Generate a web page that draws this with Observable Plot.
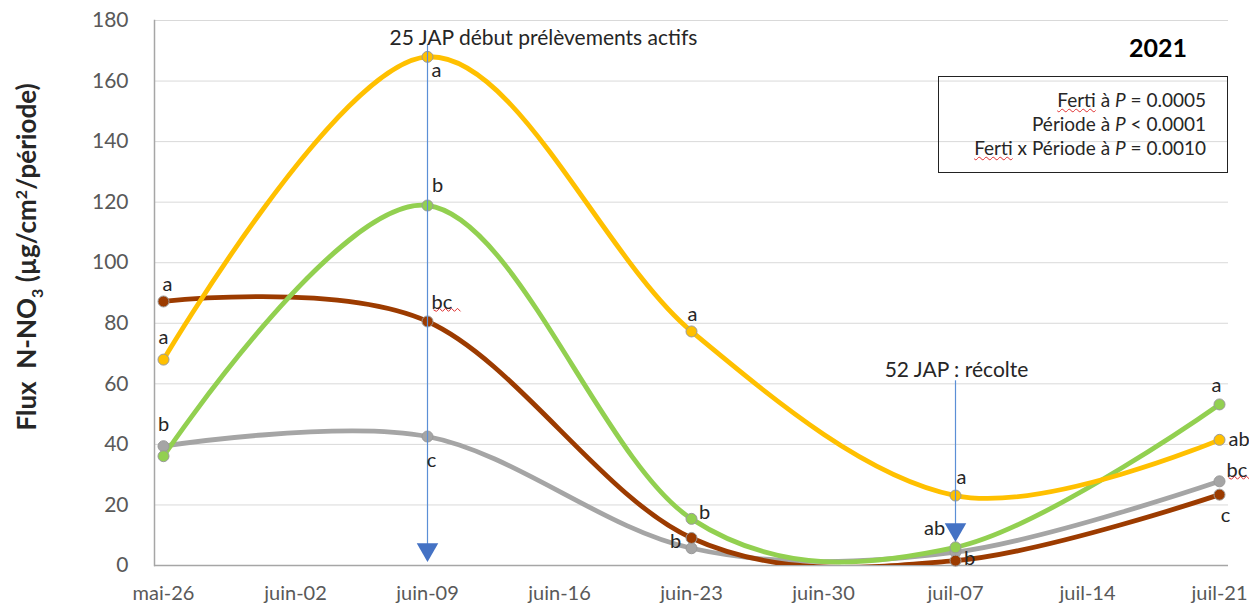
<!DOCTYPE html>
<html>
<head>
<meta charset="utf-8">
<script src="https://cdn.jsdelivr.net/npm/d3@7"></script>
<script src="https://cdn.jsdelivr.net/npm/@observablehq/plot@0.6"></script>
<style>
  html, body { margin: 0; padding: 0; background: #fff; }
  #wrap { position: relative; width: 1249px; height: 611px; font-family: Lato, "Open Sans", sans-serif; }
  #ylabel { position: absolute; left: 28px; top: 257px; transform: translate(-50%, -50%) rotate(-90deg); white-space: nowrap; font-weight: bold; font-size: 26px; color: #262626; }
  #ylabel sub, #ylabel sup { font-size: 16px; }
  #year { position: absolute; left: 1158px; top: 47px; transform: translate(-50%, -50%); font-weight: bold; font-size: 25px; color: #000; }
  #stats { position: absolute; left: 938px; top: 76px; width: 290px; height: 97px; box-sizing: border-box; border: 1.5px solid #222; text-align: right; padding: 11px 21px 0 0; font-size: 19px; line-height: 24px; color: #262626; }
  .sq { text-decoration: underline wavy #e03030; text-decoration-thickness: 1px; }
  #chart svg { overflow: visible; }
</style>
</head>
<body>
<div id="wrap">
  <div id="chart"></div>
  <div id="ylabel">Flux&nbsp; N-NO<sub>3</sub> (µg/cm<sup>2</sup>/période)</div>
  <div id="year">2021</div>
  <div id="stats">
    <div><span class="sq">Ferti</span> à <i>P</i> = 0.0005</div>
    <div>Période à <i>P</i> &lt; 0.0001</div>
    <div><span class="sq">Ferti</span> x Période à <i>P</i> = 0.0010</div>
  </div>
</div>
<script>
// Axis categories (weekly dates, 2021)
const dates = ["mai-26","juin-02","juin-09","juin-16","juin-23","juin-30","juil-07","juil-14","juil-21"];
// Sampling dates
const sampleDates = ["mai-26","juin-09","juin-23","juil-07","juil-21"];
// Series values (µg/cm²/période)
const orangeVals = [68, 168, 77.3, 23.1, 41.5];
const greenVals  = [36.1, 118.9, 15.4, 6, 53.2];
const brownVals  = [87.2, 80.6, 9.1, 1.6, 23.4];
const grayVals   = [39.4, 42.6, 5.7, 4.4, 27.8];
// Significance letters (null = none shown)
const orangeLetters = ["a","a","a","a","ab"];
const greenLetters  = [null,"b","b","ab","a"];
const brownLetters  = ["a","bc",null,"b","c"];
const grayLetters   = ["b","c","b",null,"bc"];
// Y ticks
const yTicks = [0,20,40,60,80,100,120,140,160,180];
// Annotations
const annotations = [
  {x: "juin-09", yTop: 172, yHead: 5.3, label: "25 JAP début prélèvements actifs", labelY: 174},
  {x: "juil-07", yTop: 61, yHead: 11.9, label: "52 JAP : récolte", labelY: 64.5}
];

const series = [
  {name: "gray", color: "#a5a5a5", vals: grayVals, letters: grayLetters,
   place: [[0,-22,"middle"],[4,24,"middle"],[-16,-7,"middle"],null,[7,-11,"start"]]},
  {name: "brown", color: "#9c3b00", vals: brownVals, letters: brownLetters,
   place: [[4,-17,"middle"],[4,-19,"start"],null,[14,-2,"middle"],[6,21,"middle"]]},
  {name: "green", color: "#92d050", vals: greenVals, letters: greenLetters,
   place: [null,[10,-20,"middle"],[13,-6,"middle"],[-21,-19,"middle"],[-3,-19,"middle"]]},
  {name: "orange", color: "#ffc000", vals: orangeVals, letters: orangeLetters,
   place: [[0,-22,"middle"],[9,14,"middle"],[1,-17,"middle"],[6,-18,"middle"],[9,0,"start"]]}
];

const marks = [
  Plot.gridY(yTicks, {stroke: "#d9d9d9", strokeOpacity: 1, strokeWidth: 1}),
  Plot.axisY(yTicks, {tickSize: 0, tickPadding: 26, fontSize: 21, fill: "#595959", label: null}),
  Plot.axisX(dates, {tickSize: 0, tickPadding: 20, fontSize: 20, fill: "#595959", label: null}),
  Plot.ruleY([0], {stroke: "#a6a6a6", strokeWidth: 1.5}),
  Plot.frame({anchor: "left", stroke: "#a6a6a6", strokeWidth: 1.5})
];

for (const s of series) {
  const data = sampleDates.map((d, i) => ({x: d, y: s.vals[i]}));
  marks.push(Plot.line(data, {x: "x", y: "y", stroke: s.color, strokeWidth: 4.8, curve: "catmull-rom", tension: 0, clip: true}));
}
for (const s of series) {
  const data = sampleDates.map((d, i) => ({x: d, y: s.vals[i]}));
  marks.push(Plot.dot(data, {x: "x", y: "y", r: 5.5, fill: s.color, stroke: "#9a9a9a", strokeWidth: 1}));
}
// annotation arrows
for (const a of annotations) {
  marks.push(Plot.ruleX([a], {x: "x", y1: "yTop", y2: "yHead", stroke: "#5b8fd6", strokeWidth: 1.2}));
  marks.push(Plot.dot([a], {x: "x", y: "yHead", symbol: "triangle", rotate: 180, r: 8, fill: "#4472c4", stroke: "none"}));
}
marks.push(Plot.text([annotations[0]], {x: "x", y: "labelY", text: "label", textAnchor: "start", dx: -38, fontSize: 21, fill: "#262626"}));
marks.push(Plot.text([annotations[1]], {x: "x", y: "labelY", text: "label", textAnchor: "middle", dx: 1, fontSize: 21, fill: "#262626"}));
// letters
for (const s of series) {
  sampleDates.forEach((d, i) => {
    const L = s.letters[i], p = s.place[i];
    if (!L || !p) return;
    marks.push(Plot.text([{x: d, y: s.vals[i], t: L}], {
      x: "x", y: "y", text: "t", dx: p[0], dy: p[1], textAnchor: p[2],
      fontSize: 20, fill: "#262626", className: L === "bc" ? "bcsq" : undefined
    }));
  });
}

const chart = Plot.plot({
  width: 1249,
  height: 611,
  marginLeft: 154,
  marginRight: 21,
  marginTop: 20,
  marginBottom: 46,
  style: {fontFamily: "Lato, 'Open Sans', sans-serif", background: "#fff"},
  x: {type: "point", domain: dates, padding: 0.06, axis: null},
  y: {domain: [0, 180], axis: null},
  marks
});
document.getElementById("chart").appendChild(chart);
// spell-check style wavy red underline under "bc" labels
chart.querySelectorAll(".bcsq text").forEach(t => {
  const b = t.getBBox();
  const y0 = b.y + b.height - 3;
  let d = `M${b.x + 2},${y0}`;
  for (let x = b.x + 2, k = 0; x < b.x + b.width + 6; x += 3, k++) {
    d += ` L${x + 3},${y0 + (k % 2 ? -1.5 : 1.5)}`;
  }
  const p = document.createElementNS("http://www.w3.org/2000/svg", "path");
  p.setAttribute("d", d);
  p.setAttribute("fill", "none");
  p.setAttribute("stroke", "#e03030");
  p.setAttribute("stroke-width", "1");
  const tr = t.getAttribute("transform");
  if (tr) p.setAttribute("transform", tr);
  t.parentNode.appendChild(p);
});
</script>
</body>
</html>
